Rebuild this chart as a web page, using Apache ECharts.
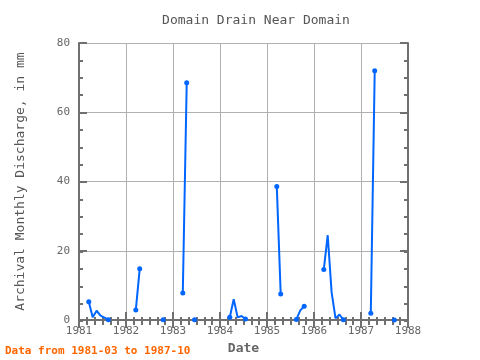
<!DOCTYPE html>
<html>
<head>
<meta charset="utf-8">
<script src="https://cdn.jsdelivr.net/npm/echarts@6/dist/echarts.min.js"></script>
<style>html,body{margin:0;padding:0;background:#fff}#c{width:480px;height:360px}</style>
</head>
<body>
<div id="c"></div>
<script>
const years = [1981, 1982, 1983, 1984, 1985, 1986, 1987];
const discharge1981 = [null, null, 5.3, 0.8, 2.7, 1.3, 0.7, 0.1, null, null, null, null];
const discharge1982 = [null, null, 2.9, 14.8, null, null, null, null, null, 0.1, null, null];
const discharge1983 = [null, null, 7.8, 68.5, null, 0.1, null, null, null, null, null, null];
const discharge1984 = [null, null, 0.8, 6.0, 0.8, 1.2, 0.3, null, null, null, null, null];
const discharge1985 = [null, null, 38.6, 7.5, null, null, null, 0.2, 2.8, 4.0, null, null];
const discharge1986 = [null, null, 14.6, 24.5, 8.0, 0.5, 1.6, 0.1, null, null, null, null];
const discharge1987 = [null, null, 2.0, 72.0, null, null, null, null, 0.0, null, null, null];
const yTicks = [0, 20, 40, 60, 80];
const xTicks = [1981, 1982, 1983, 1984, 1985, 1986, 1987, 1988];
const title = 'Domain Drain Near Domain';
const yName = 'Archival Monthly Discharge, in mm';
const xName = 'Date';
const note = 'Data from 1981-03 to 1987-10';

const perYear = [discharge1981, discharge1982, discharge1983, discharge1984, discharge1985, discharge1986, discharge1987];
const points = [];
years.forEach((y, i) => {
  perYear[i].forEach((v, m) => {
    points.push([y + (m + 0.5) / 12, v]);
  });
});
function isNull(i) { return i < 0 || i >= points.length || points[i][1] === null; }

const mono = 'DejaVu Sans Mono';
const axisCol = '#707070';
const xMin = xTicks[0], xMax = xTicks[xTicks.length - 1];
const yMin = yTicks[0], yMax = yTicks[yTicks.length - 1];
const gridBox = {left: 79, right: 72, top: 43, bottom: 39};
const chart = echarts.init(document.getElementById('c'), null, {renderer: 'canvas'});

function xAx(grid, pos, interval, len, extra) {
  return Object.assign({
    type: 'value', gridIndex: grid, position: pos, min: xMin, max: xMax, interval: interval,
    axisLine: {show: grid === 0, lineStyle: {color: axisCol, width: 2}},
    axisTick: {show: true, inside: true, length: len, lineStyle: {color: axisCol, width: 2}},
    axisLabel: {show: false}, splitLine: {show: false}
  }, extra || {});
}
function yAx(grid, pos, interval, len, extra) {
  return Object.assign({
    type: 'value', gridIndex: grid, position: pos, min: yMin, max: yMax, interval: interval,
    axisLine: {show: grid === 0, lineStyle: {color: axisCol, width: 2}},
    axisTick: {show: true, inside: true, length: len, lineStyle: {color: axisCol, width: 2}},
    axisLabel: {show: false}, splitLine: {show: false}
  }, extra || {});
}

chart.setOption({
  animation: false,
  title: {text: title, left: 251, top: 9, textAlign: 'center',
    textStyle: {fontFamily: mono, fontSize: 13, fontWeight: 'normal', color: '#555'}},
  grid: [Object.assign({}, gridBox), Object.assign({}, gridBox)],
  xAxis: [
    xAx(0, 'bottom', 1, 8, {
      name: xName, nameLocation: 'middle', nameGap: 20,
      nameTextStyle: {fontFamily: mono, fontSize: 13, fontWeight: 'bold', color: '#666'},
      axisLabel: {show: true, fontFamily: mono, fontSize: 11, color: '#666', margin: 6, formatter: v => String(v)},
      splitLine: {show: true, lineStyle: {color: '#b0b0b0', width: 1}}}),
    xAx(0, 'top', 1, 8),
    xAx(1, 'bottom', 1 / 6, 4),
    xAx(1, 'top', 1 / 6, 4)
  ],
  yAxis: [
    yAx(0, 'left', 20, 8, {
      name: yName, nameLocation: 'middle', nameGap: 52,
      nameTextStyle: {fontFamily: mono, fontSize: 13, color: '#555'},
      axisLabel: {show: true, fontFamily: mono, fontSize: 11, color: '#666', margin: 9},
      splitLine: {show: true, lineStyle: {color: '#b0b0b0', width: 1}}}),
    yAx(0, 'right', 20, 8),
    yAx(1, 'left', 5, 4),
    yAx(1, 'right', 5, 4)
  ],
  graphic: [{type: 'text', left: 5, top: 346,
    style: {text: note, fill: '#ff6600', font: 'bold 11px "DejaVu Sans Mono"'}}],
  series: [{
    type: 'line', xAxisIndex: 0, yAxisIndex: 0, data: points, connectNulls: false,
    symbol: 'circle',
    symbolSize: (v, p) => (isNull(p.dataIndex - 1) || isNull(p.dataIndex + 1)) ? 5 : 0,
    lineStyle: {color: '#0066ff', width: 2},
    itemStyle: {color: '#0066ff'}
  }]
});
</script>
</body>
</html>
